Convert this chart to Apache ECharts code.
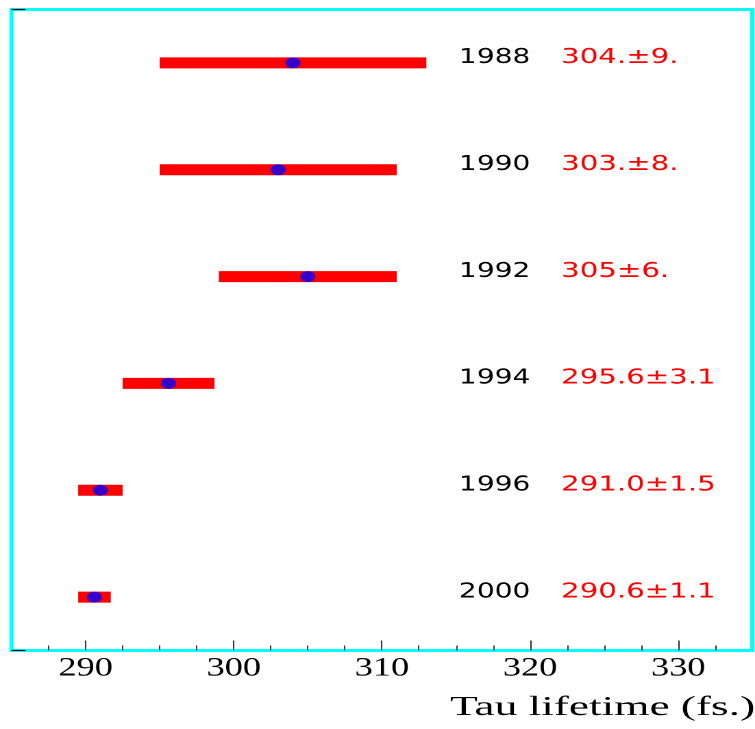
<!DOCTYPE html>
<html>
<head>
<meta charset="utf-8">
<script src="https://cdn.jsdelivr.net/npm/echarts@6/dist/echarts.min.js"></script>
<style>
  html, body { margin: 0; padding: 0; background: #ffffff; overflow: hidden; }
  /* The plot is laid out on a narrower canvas and stretched horizontally */
  #chart { width: 551px; height: 729px; transform: scaleX(1.37024); transform-origin: 0 0; }
</style>
</head>
<body>
<div id="chart"></div>
<script>
// Measurement years, top to bottom
const years = ['1988', '1990', '1992', '1994', '1996', '2000'];
// Tau lifetime central values (fs)
const lifetimes = [304, 303, 305, 295.6, 291.0, 290.6];
// Quoted uncertainties (fs)
const errors = [9, 8, 6, 3.1, 1.5, 1.1];
// Printed value texts
const valueTexts = ['304.\u00b19.', '303.\u00b18.', '305\u00b16.', '295.6\u00b13.1', '291.0\u00b11.5', '290.6\u00b11.1'];
// Axis ticks
const majorTicks = [290, 300, 310, 320, 330];
const minorTicks = [287.5, 292.5, 295, 297.5, 302.5, 305, 307.5, 312.5, 315, 317.5,
                    322.5, 325, 327.5, 332.5];

const errorBars = years.map((y, i) => [lifetimes[i] - errors[i], lifetimes[i] + errors[i], i]);
const points = years.map((y, i) => [lifetimes[i], i]);
const textRows = years.map((y, i) => [i]);
const tickLabelRows = majorTicks.map(v => [v, 0]);

const YEAR_X = 315.2;   // left edge of the year column, in axis units
const VALUE_X = 322.1;  // left edge of the value column, in axis units
const SERIF = 'Liberation Serif';
const SANS = 'DejaVu Sans';

const chart = echarts.init(document.getElementById('chart'), null, { renderer: 'canvas', devicePixelRatio: 2 });

function tickAxis(values, len) {
  return {
    type: 'value', min: 285, max: 335, position: 'bottom', z: 5,
    axisLine: { show: false },
    splitLine: { show: false },
    axisLabel: { show: false },
    axisTick: {
      show: true, inside: true, length: len, customValues: values,
      lineStyle: { color: '#000000', width: 0.8 }
    }
  };
}

chart.setOption({
  animation: false,
  backgroundColor: '#ffffff',
  grid: {
    left: 8.4, right: 2, top: 9.5, bottom: 78.5,
    show: true, borderColor: '#00ffff', borderWidth: 3, backgroundColor: 'transparent'
  },
  xAxis: [tickAxis(majorTicks, 10), tickAxis(minorTicks, 5)],
  yAxis: [
    {
      type: 'category', data: years, inverse: true, boundaryGap: true,
      axisLine: { show: false }, axisTick: { show: false },
      axisLabel: { show: false }, splitLine: { show: false }
    },
    {
      type: 'value', min: 0, max: 1, interval: 1, position: 'left', z: 5,
      axisLine: { show: false }, axisLabel: { show: false }, splitLine: { show: false },
      axisTick: { show: true, inside: true, length: 10.2, lineStyle: { color: '#000000', width: 1.2 } }
    }
  ],
  series: [
    {
      type: 'custom',
      xAxisIndex: 0, yAxisIndex: 0,
      data: errorBars,
      encode: { x: [0, 1], y: 2 },
      renderItem: function (params, api) {
        const a = api.coord([api.value(0), api.value(2)]);
        const b = api.coord([api.value(1), api.value(2)]);
        return {
          type: 'rect',
          shape: { x: a[0], y: a[1] - 5.5, width: b[0] - a[0], height: 11 },
          style: { fill: '#ff0000' }
        };
      }
    },
    {
      type: 'scatter',
      xAxisIndex: 0, yAxisIndex: 0,
      data: points,
      symbol: 'circle',
      symbolSize: 11,
      itemStyle: { color: '#0000ff' },
      z: 3
    },
    {
      // year and value columns
      type: 'custom',
      xAxisIndex: 0, yAxisIndex: 0,
      data: textRows,
      encode: { y: 0 },
      renderItem: function (params, api) {
        const i = api.value(0);
        const py = api.coord([YEAR_X, i]);
        const pv = api.coord([VALUE_X, i]);
        return {
          type: 'group',
          children: [
            {
              type: 'text', x: py[0], y: py[1] - 5,
              style: {
                text: years[i], fill: '#000000',
                fontFamily: SANS, fontSize: 20.5, align: 'left', verticalAlign: 'middle'
              }
            },
            {
              type: 'text', x: pv[0], y: pv[1] - 5, scaleX: 1.04,
              style: {
                text: valueTexts[i], fill: '#ff0000',
                fontFamily: SANS, fontSize: 20.5, align: 'left', verticalAlign: 'middle'
              }
            }
          ]
        };
      }
    },
    {
      // x-axis tick labels, placed under the plot frame
      type: 'custom',
      xAxisIndex: 0, yAxisIndex: 0,
      data: tickLabelRows,
      encode: { x: 0, y: 1 },
      clip: false,
      z: 10,
      renderItem: function (params, api) {
        const v = api.value(0);
        const p = api.coord([v, api.value(1)]);
        const bottom = params.coordSys.y + params.coordSys.height;
        return {
          type: 'text', x: p[0], y: bottom + 18,
          style: {
            text: String(v), fill: '#000000',
            fontFamily: SERIF, fontSize: 26.5, align: 'center', verticalAlign: 'middle'
          }
        };
      }
    }
  ],
  graphic: [
    {
      type: 'text',
      x: 328.4, y: 708, scaleX: 1.225,
      style: {
        text: 'Tau lifetime (fs.)', fill: '#000000',
        fontFamily: SERIF, fontSize: 27, align: 'left', verticalAlign: 'middle'
      }
    }
  ]
});
</script>
</body>
</html>
